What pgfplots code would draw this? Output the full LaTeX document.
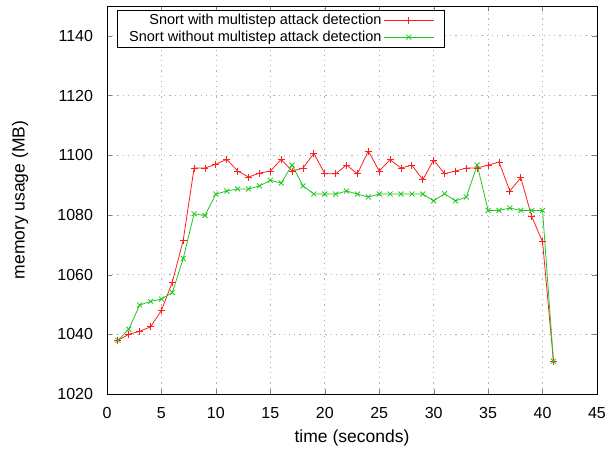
\documentclass[border=0pt]{standalone}
\usepackage{fontspec}
\setmainfont{Liberation Sans}
\usepackage{pgfplots}
\pgfplotsset{compat=1.18}
\definecolor{gpred}{RGB}{255,30,30}
\definecolor{gpgreen}{RGB}{30,200,30}
\begin{document}
\begin{tikzpicture}
\useasboundingbox (-107pt,-56pt) rectangle (498pt,394pt);
\begin{axis}[
  scale only axis,
  width=490pt, height=388pt,
  xmin=0, xmax=45, ymin=1020, ymax=1150,
  xtick distance=5, ytick distance=20,
  tick align=inside,
  major tick length=5pt,
  axis line style={black, line width=0.8pt},
  grid=major,
  grid style={gray!60, line width=0.7pt, dash pattern=on 1.2pt off 4pt},
  tick label style={font=\fontsize{16}{18}\selectfont},
  xticklabel style={yshift=-10pt},
  yticklabel style={xshift=-10.5pt},
  /pgf/number format/assume math mode=true,
  /pgf/number format/1000 sep={},
  xlabel={time (seconds)},
  ylabel={memory usage (MB)},
  every axis x label/.style={at={(rel axis cs:0.5,0)}, yshift=-44pt,
    anchor=center, font=\fontsize{17.5}{20}\selectfont},
  every axis y label/.style={at={(rel axis cs:0,0.5)}, xshift=-87pt,
    rotate=90, anchor=center, font=\fontsize{17.5}{20}\selectfont},
  legend style={at={(0.0204,0.9897)}, anchor=north west, draw=black,
    fill=white, font=\fontsize{14.5}{16}\selectfont,
    inner xsep=10pt, inner ysep=2pt, row sep=1pt},
  legend cell align=right,
  legend plot pos=right,
  legend image code/.code={\draw[mark repeat=2,mark phase=2,#1]
    plot coordinates {(0pt,0pt) (25pt,0pt) (50pt,0pt)};},
]
\addplot[gpred, line width=0.8pt, mark=+, mark size=3.5pt, forget plot] coordinates {
(1,1038) (2,1040) (3,1041) (4,1042.5) (5,1048) (6,1057.5) (7,1071.5)
(8,1095.7) (9,1095.7) (10,1097) (11,1098.6) (12,1094.7) (13,1092.7)
(14,1094) (15,1094.7) (16,1098.6) (17,1094.7) (18,1095.7) (19,1100.6)
(20,1093.8) (21,1093.8) (22,1096.7) (23,1093.8) (24,1101.4) (25,1094.7)
(26,1098.5) (27,1095.7) (28,1096.7) (29,1091.8) (30,1098.4) (31,1093.8)
(32,1094.7) (33,1095.7) (34,1095.7) (35,1096.7) (36,1097.7) (37,1088)
(38,1092.5) (39,1079.5) (40,1071) (41,1031)};
\addplot[gpgreen, line width=0.8pt, mark=x, mark size=3.5pt, forget plot] coordinates {
(1,1038) (2,1041.7) (3,1049.8) (4,1051) (5,1051.8) (6,1054) (7,1065.4)
(8,1080.4) (9,1079.8) (10,1087) (11,1088) (12,1088.7) (13,1088.7)
(14,1089.7) (15,1091.6) (16,1090.7) (17,1096.7) (18,1089.7) (19,1087)
(20,1087) (21,1087) (22,1088) (23,1087) (24,1086) (25,1087) (26,1087)
(27,1087) (28,1087) (29,1087) (30,1084.7) (31,1087.1) (32,1084.7)
(33,1086) (34,1096.7) (35,1081.5) (36,1081.5) (37,1082.3) (38,1081.5)
(39,1081.5) (40,1081.5) (41,1031)};
\addlegendimage{color=gpred, line width=0.8pt, mark=+, mark size=3.5pt}
\addlegendentry{Snort with multistep attack detection}
\addlegendimage{color=gpgreen, line width=0.8pt, mark=x, mark size=3.5pt}
\addlegendentry{Snort without multistep attack detection}
\end{axis}
\end{tikzpicture}
\end{document}
